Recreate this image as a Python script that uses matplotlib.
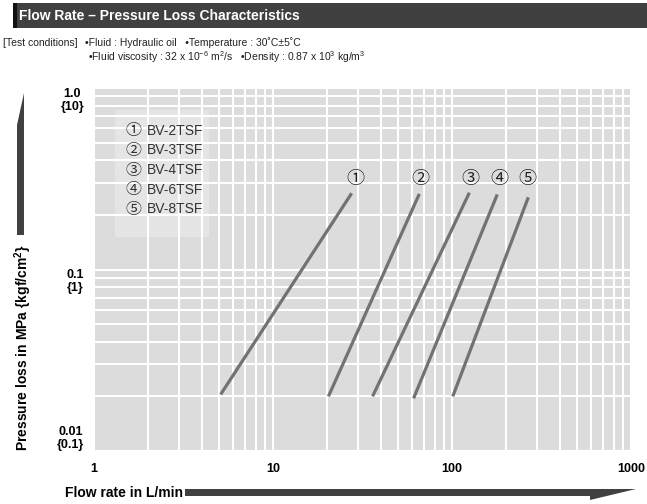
import numpy as np
import matplotlib
matplotlib.use("Agg")
from matplotlib import pyplot as plt
from matplotlib.patches import Rectangle, Polygon

FONT = ["Liberation Sans Narrow", "Liberation Sans", "DejaVu Sans"]
plt.rcParams["font.family"] = FONT
plt.rcParams["mathtext.fontset"] = "custom"
plt.rcParams["mathtext.rm"] = "Liberation Sans Narrow"
plt.rcParams["mathtext.default"] = "regular"

# data: start / end of each characteristic line
models = ["BV-2TSF", "BV-3TSF", "BV-4TSF", "BV-6TSF", "BV-8TSF"]
marks = ["①", "②", "③", "④", "⑤"]
flow_start = [5.1, 20.4, 36, 61, 101]
flow_end = [27.5, 65.7, 125, 179, 267]
loss_start = [0.0205, 0.020, 0.020, 0.0195, 0.020]
loss_end = [0.263, 0.261, 0.265, 0.259, 0.25]
mark_x = [29, 67, 127, 185, 263]
mark_y = 0.315

xticks = [1, 10, 100, 1000]
xticklabels = ["1", "10", "100", "1000"]
yticks = [1.0, 0.1, 0.01]
yticklabels = ["1.0\n{10}", "0.1\n{1}", "0.01\n{0.1}"]

fig = plt.figure(figsize=(6.47, 5.04), dpi=100)
W, H = 647, 504

def fx(px):
    return px / W

def fy(py):
    return 1 - py / H

# header bar
fig.patches.append(Rectangle((fx(13), fy(28)), fx(634), 25 / H, transform=fig.transFigure,
                             facecolor="#404040", edgecolor="none"))
fig.patches.append(Rectangle((fx(13), fy(28)), fx(4), 25 / H, transform=fig.transFigure,
                             facecolor="#111111", edgecolor="none"))
fig.text(fx(19), fy(15.5), "Flow Rate – Pressure Loss Characteristics", color="white",
         fontsize=10, fontweight="bold", va="center", ha="left")

# test conditions
fig.text(fx(3), fy(43), "[Test conditions]", fontsize=7.5, va="center", color="#222222")
fig.text(fx(85), fy(43), "•Fluid : Hydraulic oil   •Temperature : 30˚C±5˚C",
         fontsize=7.5, va="center", color="#222222")
fig.text(fx(88), fy(57), "•Fluid viscosity : 32 x 10$^{-6}$ m$^{2}$/s   •Density : 0.87 x 10$^{3}$ kg/m$^{3}$",
         fontsize=7.5, va="center", color="#222222")

ax = fig.add_axes([fx(94), fy(451), fx(631) - fx(94), fy(88) - fy(451)])
ax.set_facecolor("#dcdcdc")
ax.set_xscale("log")
ax.set_yscale("log")
ax.set_xlim(1, 1000)
ax.set_ylim(0.01, 1.0)
for s in ax.spines.values():
    s.set_visible(False)

ax.grid(True, which="both", color="white", linewidth=1.5)
ax.set_axisbelow(True)
ax.tick_params(which="both", length=0)

ax.set_xticks(xticks)
ax.set_xticklabels(xticklabels, fontsize=9, fontweight="bold")
ax.tick_params(axis="x", pad=9)
ax.set_yticks(yticks)
ax.set_yticklabels([])
for yv, lab, va in zip(yticks, yticklabels, ["top", "top", "bottom"]):
    ax.text(-0.018, yv, lab, transform=ax.get_yaxis_transform(), ha="right", va=va,
            multialignment="center", fontsize=9, fontweight="bold", linespacing=1.1)

# legend box
ax.add_patch(Rectangle((fx(115), fy(237)), fx(209) - fx(115), (237 - 110) / H,
                       transform=fig.transFigure, facecolor="white", alpha=0.28,
                       edgecolor="none", zorder=1))
for i, (m, name) in enumerate(zip(marks, models)):
    yy = fy(131 + i * 19.5)
    fig.text(fx(126), yy, m, fontsize=11.5, va="center", ha="left", color="#333333",
             family=["Noto Sans CJK JP", "DejaVu Sans"])
    fig.text(fx(147), yy, name, fontsize=10, va="center", ha="left", color="#333333")

# characteristic lines
for x0, x1, y0, y1 in zip(flow_start, flow_end, loss_start, loss_end):
    ax.plot([x0, x1], [y0, y1], color="#727272", linewidth=2.3, solid_capstyle="butt", zorder=3)
for m, mx in zip(marks, mark_x):
    ax.text(mx, mark_y, m, fontsize=13, ha="center", va="center", color="#222222",
            family=["Noto Sans CJK JP", "DejaVu Sans"], zorder=4)

# axis titles with arrows
fig.text(fx(23), fy(348), "Pressure loss in MPa {kgf/cm$^{2}$}", rotation=90,
         fontsize=10, fontweight="bold", va="center", ha="center")
fig.patches.append(Polygon([(fx(17), fy(235)), (fx(24), fy(235)), (fx(24), fy(93)), (fx(17), fy(125))],
                           closed=True, transform=fig.transFigure, facecolor="#404040", edgecolor="none"))
fig.text(fx(65), fy(493), "Flow rate in L/min", fontsize=10, fontweight="bold", va="center", ha="left")
fig.patches.append(Polygon([(fx(185), fy(489)), (fx(636), fy(489)), (fx(590), fy(500)), (fx(590), fy(496)),
                            (fx(185), fy(496))],
                           closed=True, transform=fig.transFigure, facecolor="#404040", edgecolor="none"))

fig.savefig("out.png", dpi=100)
